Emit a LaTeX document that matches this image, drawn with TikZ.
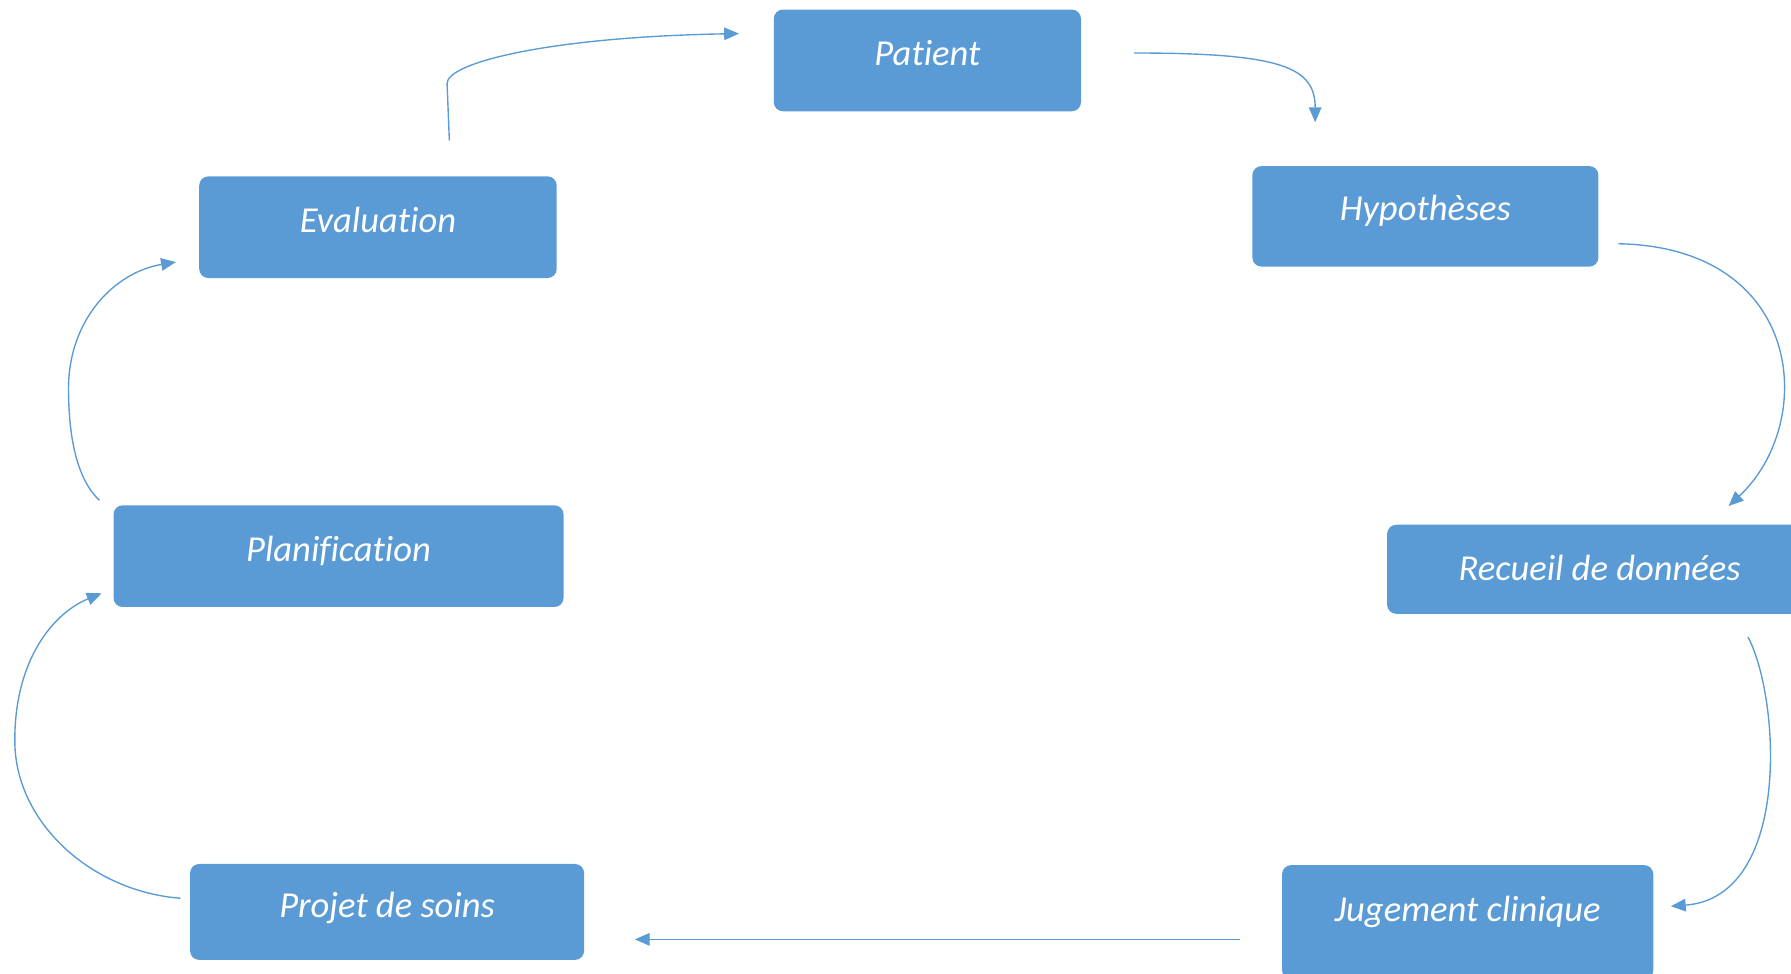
\documentclass[tikz,border=0pt]{standalone}
\usepackage{fontspec}
\setmainfont[Ligatures=NoCommon]{Carlito}
\usetikzlibrary{arrows.meta}
\definecolor{boxblue}{HTML}{5B9BD5}

\begin{document}
\begin{tikzpicture}[x=0.5pt,y=-0.5pt,>={Triangle[length=6.5pt,width=5.5pt]},
  etape/.style={rectangle,rounded corners=4pt,fill=boxblue,text=white,
    font=\fontsize{16}{19}\selectfont\itshape,anchor=north west,inner sep=0pt,
    text height=24.5pt,text depth=20pt},
  fleche/.style={->,draw=boxblue,fill=none,line width=0.6pt}]
\useasboundingbox (0,0) rectangle (1568,852);
\clip (0,0) rectangle (1568,852);
% the seven steps
\node[etape,minimum width=134.5pt] (patient) at (677,8) {Patient};
\node[etape,minimum width=151.5pt,text height=24pt] (hypotheses) at (1096,145) {Hypothèses};
\node[etape,minimum width=186pt,text depth=14.5pt] (recueil) at (1214,459) {Recueil de données};
\node[etape,minimum width=162.5pt,text depth=25.5pt] (jugement) at (1122,757) {Jugement clinique};
\node[etape,minimum width=172.5pt,text height=23.5pt,text depth=18.5pt] (projet) at (166,756) {Projet de soins};
\node[etape,minimum width=197pt] (planification) at (99,442) {Planification};
\node[etape,minimum width=156.5pt] (evaluation) at (174,154) {Evaluation};
% the cycle
\draw[fleche] ([shift={(46,-6.5)}]patient.east) .. controls +(130,0) and +(0,-48) .. ([shift={(-96.5,-38)}]hypotheses.north);
\draw[fleche] ([shift={(17,24)}]hypotheses.east) .. controls +(163,3) and +(78,-73) .. ([shift={(113,-16)}]recueil.north);
\draw[fleche] ([shift={(130,20)}]recueil.south) .. controls +(28,53) and +(106,-8) .. ([shift={(15,-14)}]jugement.east);
\draw[fleche] ([shift={(-36,15)}]jugement.west) -- ([shift={(44,24)}]projet.east);
\draw[fleche] ([shift={(-8,-12)}]projet.west) .. controls +(-78,-6) and +(1,70) .. ++(-145,-136)
  .. controls +(-1,-70) and +(-44,18) .. ([shift={(-10,32.5)}]planification.west);
\draw[fleche] ([shift={(-12,-4)}]planification.north west) .. controls +(-19,-18) and +(0,45) .. ++(-27,-98)
  .. controls +(0,-60) and +(-54,9) .. ([shift={(-20,30.5)}]evaluation.west);
\draw[fleche] ([shift={(62.5,-31)}]evaluation.north) -- ++(-2,-50)
  .. controls +(0,-18) and +(-167,3) .. ([shift={(-30,-23.5)}]patient.west);
\end{tikzpicture}
\end{document}
